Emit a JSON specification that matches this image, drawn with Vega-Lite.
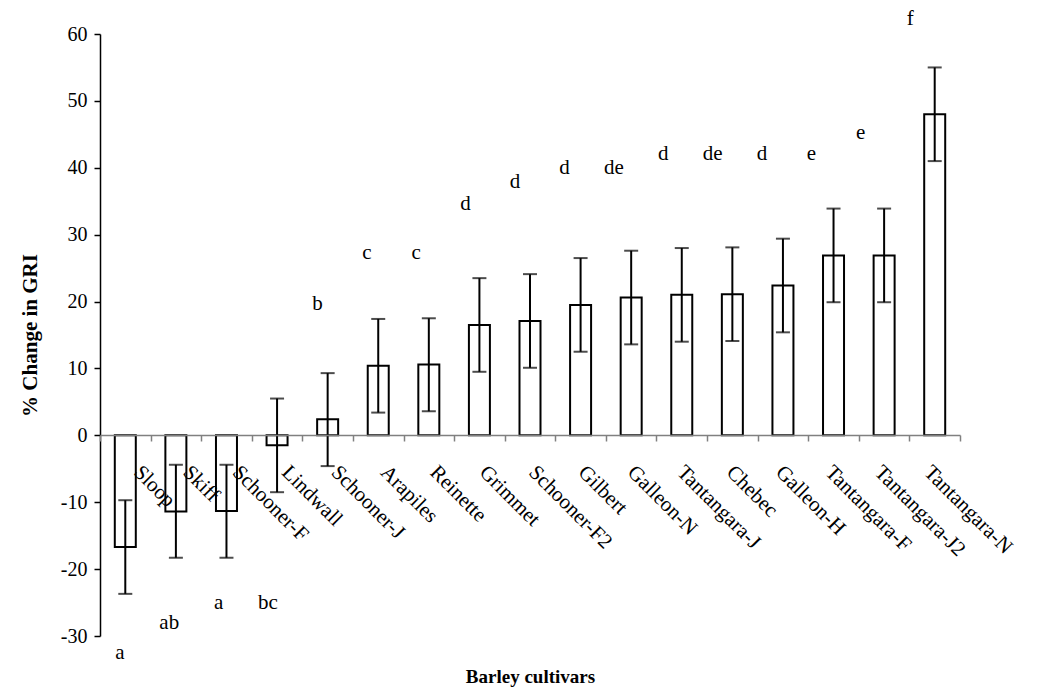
{
  "$schema": "https://vega.github.io/schema/vega-lite/v6.json",
  "width": 860,
  "height": 602,
  "autosize": "none",
  "padding": {"left": 100, "top": 34, "right": 89, "bottom": 59},
  "background": "white",
  "config": {"view": {"stroke": null}, "font": "Liberation Serif"},
  "data": {"values": [
    {"cultivar": "Sloop", "mean": -16.7, "lo": -23.7, "hi": -9.7, "letter": "a", "ly": -32.6},
    {"cultivar": "Skiff", "mean": -11.4, "lo": -18.3, "hi": -4.4, "letter": "ab", "ly": -28.0},
    {"cultivar": "Schooner-F", "mean": -11.3, "lo": -18.3, "hi": -4.4, "letter": "a", "ly": -25.1},
    {"cultivar": "Lindwall", "mean": -1.5, "lo": -8.5, "hi": 5.5, "letter": "bc", "ly": -25.1},
    {"cultivar": "Schooner-J", "mean": 2.4, "lo": -4.6, "hi": 9.3, "letter": "b", "ly": 19.7},
    {"cultivar": "Arapiles", "mean": 10.4, "lo": 3.4, "hi": 17.4, "letter": "c", "ly": 27.2},
    {"cultivar": "Reinette", "mean": 10.6, "lo": 3.6, "hi": 17.5, "letter": "c", "ly": 27.2},
    {"cultivar": "Grimmet", "mean": 16.5, "lo": 9.5, "hi": 23.5, "letter": "d", "ly": 34.6},
    {"cultivar": "Schooner-F2", "mean": 17.1, "lo": 10.1, "hi": 24.1, "letter": "d", "ly": 37.9},
    {"cultivar": "Gilbert", "mean": 19.5, "lo": 12.5, "hi": 26.5, "letter": "d", "ly": 39.9},
    {"cultivar": "Galleon-N", "mean": 20.6, "lo": 13.6, "hi": 27.6, "letter": "de", "ly": 39.9},
    {"cultivar": "Tantangara-J", "mean": 21.0, "lo": 14.0, "hi": 28.0, "letter": "d", "ly": 42.1},
    {"cultivar": "Chebec", "mean": 21.1, "lo": 14.1, "hi": 28.1, "letter": "de", "ly": 42.1},
    {"cultivar": "Galleon-H", "mean": 22.4, "lo": 15.4, "hi": 29.4, "letter": "d", "ly": 42.1},
    {"cultivar": "Tantangara-F", "mean": 26.9, "lo": 19.9, "hi": 33.9, "letter": "e", "ly": 42.1},
    {"cultivar": "Tantangara-J2", "mean": 26.9, "lo": 19.9, "hi": 33.9, "letter": "e", "ly": 45.2},
    {"cultivar": "Tantangara-N", "mean": 48.0, "lo": 41.0, "hi": 55.0, "letter": "f", "ly": 62.2}
  ]},
  "layer": [
    {
      "layer": [
        {
          "mark": {"type": "bar", "fill": "white", "stroke": "black", "strokeWidth": 2, "size": 21},
          "encoding": {
            "y": {
              "field": "mean", "type": "quantitative",
              "scale": {"domain": [-30, 60], "nice": false},
              "axis": {
                "title": "% Change in GRI", "titleFont": "Liberation Serif", "titleFontWeight": "bold", "titleFontSize": 21, "titleColor": "black",
                "titlePadding": 20,
                "values": [-30, -20, -10, 0, 10, 20, 30, 40, 50, 60],
                "labelExpr": "datum.value < 0 ? '-' + abs(datum.value) : '' + datum.value",
                "labelFontSize": 20, "labelColor": "black", "labelFont": "Liberation Serif", "labelPadding": 7,
                "tickSize": 6, "tickColor": "black", "domainColor": "black", "domainWidth": 1.5, "tickWidth": 1.5,
                "grid": false
              }
            }
          }
        },
        {
          "mark": {"type": "rule", "color": "black", "strokeWidth": 2},
          "encoding": {"y": {"field": "lo", "type": "quantitative"}, "y2": {"field": "hi"}}
        },
        {
          "mark": {"type": "tick", "color": "black", "thickness": 2, "size": 14, "orient": "horizontal"},
          "encoding": {"y": {"field": "lo", "type": "quantitative"}}
        },
        {
          "mark": {"type": "tick", "color": "black", "thickness": 2, "size": 14, "orient": "horizontal"},
          "encoding": {"y": {"field": "hi", "type": "quantitative"}}
        }
      ],
      "encoding": {
        "x": {
          "field": "cultivar", "type": "nominal", "sort": null,
          "scale": {"paddingInner": 0, "paddingOuter": 0},
          "axis": {
            "title": "Barley cultivars", "titleFont": "Liberation Serif", "titleFontWeight": "bold", "titleFontSize": 19, "titleColor": "black",
            "titleY": 232, "titleBaseline": "top",
            "offset": -201, "zindex": 1,
            "labels": false,
            "tickBand": "extent", "tickSize": 6, "tickColor": "#808080", "domainColor": "#808080", "domainWidth": 1.5, "tickWidth": 1.5,
            "grid": false
          }
        }
      }
    },
    {
      "mark": {"type": "text", "font": "Liberation Serif", "fontSize": 21, "color": "black", "dx": -15, "baseline": "middle"},
      "encoding": {
        "x": {"field": "cultivar", "type": "nominal", "sort": null, "scale": {"type": "point", "padding": 0.705}, "axis": null},
        "y": {"field": "ly", "type": "quantitative", "scale": {"domain": [-30, 60], "nice": false}, "axis": null},
        "text": {"field": "letter"}
      }
    },
    {
      "mark": {"type": "text", "font": "Liberation Serif", "fontSize": 21, "color": "black", "angle": 45, "align": "left", "baseline": "middle", "dx": 25.5, "dy": 22.6},
      "encoding": {
        "x": {"field": "cultivar", "type": "nominal", "sort": null, "scale": {"type": "point", "padding": 0.705}, "axis": null},
        "y": {"datum": 0, "type": "quantitative", "scale": {"domain": [-30, 60], "nice": false}, "axis": null},
        "text": {"field": "cultivar"}
      }
    }
  ],
  "resolve": {"scale": {"x": "independent", "y": "independent"}}
}
